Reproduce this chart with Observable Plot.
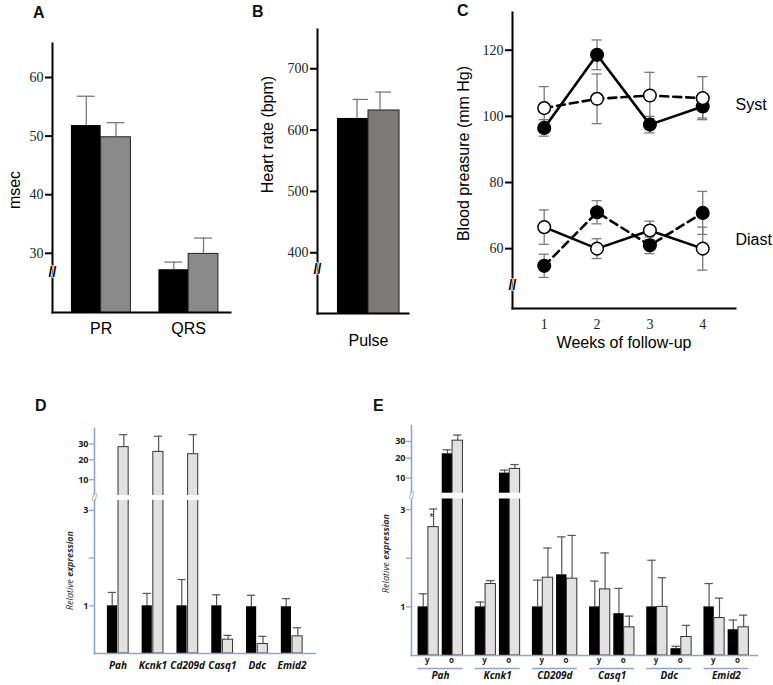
<!DOCTYPE html>
<html><head><meta charset="utf-8">
<script src="https://cdn.jsdelivr.net/npm/d3@7"></script>
<script src="https://cdn.jsdelivr.net/npm/@observablehq/plot@0.6"></script>
<style>
body{margin:0;background:#fff;}
#fig{position:relative;width:773px;height:685px;overflow:hidden;background:#fff;}
.letter{position:absolute;font:bold 16px "Liberation Sans",Arial,sans-serif;color:#111;}
.rel{position:absolute;font:9px "Open Sans",sans-serif;color:#333;transform:rotate(-90deg);transform-origin:center;white-space:nowrap;}
</style></head><body><div id="fig"></div><script>
// ---------- Panel A: ECG intervals ----------
const aCategories = ["PR", "QRS"];
const aBlack = [51.8, 27.2];
const aBlackErr = [56.8, 28.5];
const aGray = [49.8, 29.9];
const aGrayErr = [52.3, 32.6];
const aTicks = [30, 40, 50, 60];

// ---------- Panel B: heart rate ----------
const bCategories = ["Pulse"];
const bBlack = [619];
const bBlackErr = [650];
const bGray = [632];
const bGrayErr = [662];
const bTicks = [400, 500, 600, 700];

// ---------- Panel C: blood pressure ----------
const cWeeks = [1, 2, 3, 4];
const cSystFilled = [96.5, 118.6, 97.5, 103];
const cSystFilledErr = [2.5, 4.5, 2.5, 3.5];
const cSystOpen = [102.5, 105.3, 106.3, 105.5];
const cSystOpenErr = [6.5, 7.5, 7, 6.5];
const cDiastFilled = [54.8, 71, 61, 70.8];
const cDiastFilledErr = [3.5, 3.5, 2.5, 6.5];
const cDiastOpen = [66.5, 60, 65.5, 60];
const cDiastOpenErr = [5.2, 3, 2.8, 6.5];
const cTicks = [60, 80, 100, 120];

// ---------- Panel D: relative expression ----------
const dGenes = ["Pah", "Kcnk1", "Cd209d", "Casq1", "Ddc", "Emid2"];
const dBlack = [1, 1, 1, 1, 0.98, 0.98];
const dBlackErr = [1.28, 1.26, 1.55, 1.23, 1.22, 1.15];
const dGray = [28, 25, 23.5, 0.29, 0.20, 0.36];
const dGrayErr = [36, 35, 36, 0.38, 0.36, 0.54];

// ---------- Panel E: relative expression, young / old ----------
const eGenes = ["Pah", "Kcnk1", "CD209d", "Casq1", "Ddc", "Emid2"];
const eYoungBlack = [1, 1, 1, 1, 1, 1];
const eYoungBlackErr = [1.27, 1.10, 1.55, 1.53, 1.96, 1.48];
const eYoungGray = [2.64, 1.47, 1.60, 1.36, 1.0, 0.77];
const eYoungGrayErr = [3.14, 1.54, 2.21, 2.11, 1.60, 1.18];
const eOldBlack = [22.6, 12.5, 1.66, 0.86, 0.14, 0.53];
const eOldBlackErr = [25, 14, 2.44, 1.38, 0.19, 0.73];
const eOldGray = [30.5, 14.6, 1.58, 0.58, 0.38, 0.58];
const eOldGrayErr = [34, 16.8, 2.47, 0.81, 0.62, 0.83];
const eAges = ["y", "o"];

const exprTicks = [1, 2, 3, 10, 20, 30];
const exprTickLabel = d => (d === 2 ? "" : String(d));
// broken expression axis: value stops
const exprStops = [0, 3, 10, 20, 30, 40];

// ---------- helpers ----------
const fig = document.getElementById("fig");
function place(node, left, top) {
  node.style.position = "absolute";
  node.style.left = left + "px";
  node.style.top = top + "px";
  fig.appendChild(node);
}
function letter(t, left, top) {
  const d = document.createElement("div");
  d.className = "letter"; d.textContent = t;
  d.style.left = left + "px"; d.style.top = top + "px";
  fig.appendChild(d);
}
function bandwidth(domain, r0, r1, pi, po, align) {
  return d3.scaleBand().domain(domain).range([r0, r1]).paddingInner(pi).paddingOuter(po).align(align).bandwidth();
}
const SERIF = "Liberation Serif, Times New Roman, serif";
const SANS = "Liberation Sans, Arial, sans-serif";
const CAL = "Open Sans, sans-serif";
const ERRC = "#7a7a7a";
const breakMark = {textAnchor: "middle", fontFamily: SANS, fontWeight: "bold", fontSize: 14, stroke: "white", strokeWidth: 1.5, paintOrder: "stroke", fill: "black"};

// ================= Panel A =================
{
  const W = 250, H = 345, ml = 52, mt = 43, mr = 20, mb = 33;
  const pi = 0.32, po = 0.177, al = 0.61;
  const bw = bandwidth(aCategories, ml, W - mr, pi, po, al);
  const black = aCategories.map((c, i) => ({cat: c, v: aBlack[i], e: aBlackErr[i]}));
  const gray = aCategories.map((c, i) => ({cat: c, v: aGray[i], e: aGrayErr[i]}));
  const p = Plot.plot({
    width: W, height: H, marginLeft: ml, marginTop: mt, marginRight: mr, marginBottom: mb,
    style: {background: "transparent", color: "black"},
    x: {domain: aCategories, paddingInner: pi, paddingOuter: po, align: al, round: false, axis: null},
    y: {domain: [19.9, 65.8]},
    marks: [
      Plot.barY(black, {x: "cat", y: "v", fill: "black", insetRight: bw / 2, clip: true}),
      Plot.barY(gray, {x: "cat", y: "v", fill: "#8a8a8a", stroke: "#222", strokeWidth: 1, insetLeft: bw / 2, clip: true}),
      Plot.ruleX(black, {x: "cat", y1: "v", y2: "e", dx: -bw / 4, stroke: ERRC, strokeWidth: 1.3}),
      Plot.ruleX(gray, {x: "cat", y1: "v", y2: "e", dx: bw / 4, stroke: ERRC, strokeWidth: 1.3}),
      Plot.tickY(black, {x: "cat", y: "e", insetLeft: bw * 0.1, insetRight: bw * 0.6, stroke: ERRC, strokeWidth: 1.3}),
      Plot.tickY(gray, {x: "cat", y: "e", insetLeft: bw * 0.6, insetRight: bw * 0.1, stroke: ERRC, strokeWidth: 1.3}),
      Plot.axisY({ticks: aTicks, tickSize: 7, tickPadding: 2, strokeWidth: 2, label: null, fontFamily: SERIF, fontSize: 14, fill: "#222"}),
      Plot.frame({anchor: "left", strokeWidth: 2}),
      Plot.frame({anchor: "bottom", strokeWidth: 2}),
      Plot.text(["//"], {frameAnchor: "left", y: [26.8], ...breakMark}),
      Plot.text(aCategories, {x: d => d, frameAnchor: "bottom", dy: 21, fontFamily: SANS, fontSize: 16}),
      Plot.text(["msec"], {frameAnchor: "left", textAnchor: "middle", rotate: -90, dx: -38, dy: 12, fontFamily: SANS, fontSize: 16})
    ]
  });
  place(p, 0, 0);
}

// ================= Panel B =================
{
  const W = 180, H = 360, ml = 67, mt = 29, mr = 22, mb = 47;
  const pi = 0, po = 0.233, al = 0.69;
  const bw = bandwidth(bCategories, ml, W - mr, pi, po, al);
  const black = bCategories.map((c, i) => ({cat: c, v: bBlack[i], e: bBlackErr[i]}));
  const gray = bCategories.map((c, i) => ({cat: c, v: bGray[i], e: bGrayErr[i]}));
  const p = Plot.plot({
    width: W, height: H, marginLeft: ml, marginTop: mt, marginRight: mr, marginBottom: mb,
    style: {background: "transparent", color: "black"},
    x: {domain: bCategories, paddingInner: pi, paddingOuter: po, align: al, round: false, axis: null},
    y: {domain: [301, 764]},
    marks: [
      Plot.barY(black, {x: "cat", y: "v", fill: "black", insetRight: bw / 2, clip: true}),
      Plot.barY(gray, {x: "cat", y: "v", fill: "#7d7a77", stroke: "#222", strokeWidth: 1, insetLeft: bw / 2, clip: true}),
      Plot.ruleX(black, {x: "cat", y1: "v", y2: "e", dx: -bw / 4 + 4, stroke: ERRC, strokeWidth: 1.3}),
      Plot.ruleX(gray, {x: "cat", y1: "v", y2: "e", dx: bw / 4 - 4, stroke: ERRC, strokeWidth: 1.3}),
      Plot.tickY(black, {x: "cat", y: "e", insetLeft: bw * 0.25, insetRight: bw * 0.5, stroke: ERRC, strokeWidth: 1.3}),
      Plot.tickY(gray, {x: "cat", y: "e", insetLeft: bw * 0.62, insetRight: bw * 0.13, stroke: ERRC, strokeWidth: 1.3}),
      Plot.axisY({ticks: bTicks, tickSize: 7, tickPadding: 2, strokeWidth: 2, label: null, fontFamily: SERIF, fontSize: 14, fill: "#222"}),
      Plot.frame({anchor: "left", strokeWidth: 2}),
      Plot.frame({anchor: "bottom", strokeWidth: 2}),
      Plot.text(["//"], {frameAnchor: "left", y: [372], ...breakMark}),
      Plot.text(bCategories, {x: d => d, frameAnchor: "bottom", dy: 32, fontFamily: SANS, fontSize: 16}),
      Plot.text(["Heart rate (bpm)"], {frameAnchor: "left", textAnchor: "middle", rotate: -90, dx: -50, dy: -37, fontFamily: SANS, fontSize: 16})
    ]
  });
  place(p, 250, 0);
}

// ================= Panel C =================
{
  const W = 353, H = 362, ml = 92, mt = 12, mr = 38, mb = 54;
  const mk = (vals, errs) => cWeeks.map((w, i) => ({week: w, v: vals[i], lo: vals[i] - errs[i], hi: vals[i] + errs[i]}));
  const sF = mk(cSystFilled, cSystFilledErr);
  const sO = mk(cSystOpen, cSystOpenErr);
  const dF = mk(cDiastFilled, cDiastFilledErr);
  const dO = mk(cDiastOpen, cDiastOpenErr);
  const all = [...sF, ...sO, ...dF, ...dO];
  const err = {stroke: ERRC, strokeWidth: 1.3};
  const p = Plot.plot({
    width: W, height: H, marginLeft: ml, marginTop: mt, marginRight: mr, marginBottom: mb,
    style: {background: "transparent", color: "black", overflow: "visible"},
    x: {domain: [0.40, 4.62]},
    y: {domain: [41.9, 131.4]},
    marks: [
      Plot.ruleX(all, {x: "week", y1: "lo", y2: "hi", ...err}),
      Plot.ruleY(all, {y: "lo", x1: "week", x2: "week", insetLeft: -5, insetRight: -5, ...err}),
      Plot.ruleY(all, {y: "hi", x1: "week", x2: "week", insetLeft: -5, insetRight: -5, ...err}),
      Plot.line(sF, {x: "week", y: "v", stroke: "black", strokeWidth: 2.6}),
      Plot.line(sO, {x: "week", y: "v", stroke: "black", strokeWidth: 2.6, strokeDasharray: "8,5"}),
      Plot.line(dF, {x: "week", y: "v", stroke: "black", strokeWidth: 2.6, strokeDasharray: "8,5"}),
      Plot.line(dO, {x: "week", y: "v", stroke: "black", strokeWidth: 2.6}),
      Plot.dot([...sF, ...dF], {x: "week", y: "v", r: 6.3, fill: "black", stroke: "black"}),
      Plot.dot([...sO, ...dO], {x: "week", y: "v", r: 6.3, fill: "white", stroke: "black", strokeWidth: 1.5}),
      Plot.axisY({ticks: cTicks, tickSize: 7, tickPadding: 2, strokeWidth: 2, label: null, fontFamily: SERIF, fontSize: 14, fill: "#222"}),
      Plot.axisX({ticks: cWeeks, tickFormat: d3.format("d"), tickSize: 0, tickPadding: 11, label: null, fontFamily: SERIF, fontSize: 14, fill: "#222"}),
      Plot.frame({anchor: "left", strokeWidth: 2}),
      Plot.frame({anchor: "bottom", strokeWidth: 2}),
      Plot.text(["//"], {frameAnchor: "left", y: [49], ...breakMark}),
      Plot.text(["Syst"], {frameAnchor: "right", y: [103.5], textAnchor: "start", dx: 0, fontFamily: SANS, fontSize: 16}),
      Plot.text(["Diast"], {frameAnchor: "right", y: [62.5], textAnchor: "start", dx: 0, fontFamily: SANS, fontSize: 16}),
      Plot.text(["Weeks of follow-up"], {frameAnchor: "bottom", dy: 39, fontFamily: SANS, fontSize: 16}),
      Plot.text(["Blood preasure (mm Hg)"], {frameAnchor: "left", textAnchor: "middle", rotate: -90, dx: -49, dy: -7, fontFamily: SANS, fontSize: 16})
    ]
  });
  place(p, 420, 0);
}

// ================= Panels D & E helpers =================
const BLUE = "#8ea6cb";
function exprAxis(brk) {
  // the axis mark draws in scale space, so its ticks are placed through the same break mapping
  return Plot.axisY({
    ticks: exprTicks.map(brk),
    tickFormat: d => exprTickLabel(Math.round(brk.invert(d))),
    tickSize: 5, tickPadding: 1, stroke: BLUE, strokeWidth: 1.3, label: null,
    fontFamily: CAL, fontWeight: "bold", fontSize: 9, fill: "#222"
  });
}

// ================= Panel D =================
{
  const W = 360, H = 305, ml = 94, mt = 48, mr = 45, mb = 32;
  const pi = 0.388, po = 0.37, al = 0.5;
  const bw = bandwidth(dGenes, ml, W - mr, pi, po, al);
  const half = bw / 2;
  const black = dGenes.map((g, i) => ({g, v: dBlack[i], e: dBlackErr[i]}));
  const gray = dGenes.map((g, i) => ({g, v: dGray[i], e: dGrayErr[i]}));
  const brk = d3.scaleLinear().domain(exprStops).range([0, 143.3, 174, 194, 209.8, 225.3]);
  const er = {stroke: "#555", strokeWidth: 1.2};
  const p = Plot.plot({
    width: W, height: H, marginLeft: ml, marginTop: mt, marginRight: mr, marginBottom: mb,
    style: {background: "transparent", color: "black"},
    x: {domain: dGenes, paddingInner: pi, paddingOuter: po, align: al, round: false},
    y: {domain: [0, 225.3], transform: brk},
    marks: [
      Plot.frame({anchor: "left", stroke: BLUE, strokeWidth: 1.6}),
      exprAxis(brk),
      Plot.ruleX(black, {x: "g", y1: "v", y2: "e", dx: -half / 2 - 0.5, ...er}),
      Plot.ruleX(gray, {x: "g", y1: "v", y2: "e", dx: half / 2 + 0.5, ...er}),
      Plot.tickY(black, {x: "g", y: "e", insetLeft: 1, insetRight: half + 1.5, ...er}),
      Plot.tickY(gray, {x: "g", y: "e", insetLeft: half + 1.5, insetRight: 1, ...er}),
      Plot.barY(black, {x: "g", y: "v", fill: "black", insetRight: half + 0.5}),
      Plot.barY(gray, {x: "g", y: "v", fill: "#e1e1e1", stroke: "#333", strokeWidth: 1, insetLeft: half + 0.5}),
      Plot.rect([[5.3, 6.4]], {y1: d => d[0], y2: d => d[1], fill: "white", insetLeft: -4}),
      Plot.text(["//"], {frameAnchor: "left", y: [5.85], textAnchor: "middle", fontFamily: SANS, fontSize: 10, fill: BLUE}),
      Plot.frame({anchor: "bottom", stroke: BLUE, strokeWidth: 1.6}),
      Plot.axisX({tickSize: 0, tickPadding: 8, label: null, fontFamily: CAL, fontWeight: "bold", fontStyle: "italic", fontSize: 10, fill: "#111"})
    ]
  });
  place(p, 0, 380);
}

// ================= Panel E =================
{
  const W = 403, H = 305, ml = 41, mt = 45, mr = 16, mb = 30;
  const pi = 0.215, po = 0.133, al = 0.43;
  const bw = bandwidth(eGenes, ml, W - mr, pi, po, al);
  const gap = 3.5, q = (bw - gap) / 4;
  const rows = (vals, errs) => eGenes.map((g, i) => ({g, v: vals[i], e: errs[i]}));
  const yb = rows(eYoungBlack, eYoungBlackErr), yg = rows(eYoungGray, eYoungGrayErr);
  const ob = rows(eOldBlack, eOldBlackErr), og = rows(eOldGray, eOldGrayErr);
  const slots = [[yb, 0, "black"], [yg, 1, "gray"], [ob, 2, "black"], [og, 3, "gray"]];
  const brk = d3.scaleLinear().domain(exprStops).range([0, 146.1, 177.7, 197.7, 214.4, 230.4]);
  const er = {stroke: "#555", strokeWidth: 1.2};
  const barMarks = [];
  for (const [data, k, color] of slots) {
    const left = k * q + (k >= 2 ? gap : 0);
    const right = bw - left - q;
    const center = left + q / 2 - bw / 2;
    barMarks.push(Plot.ruleX(data, {x: "g", y1: "v", y2: "e", dx: center, ...er}));
    barMarks.push(Plot.tickY(data, {x: "g", y: "e", insetLeft: left + 1, insetRight: right + 1, ...er}));
    barMarks.push(color === "black"
      ? Plot.barY(data, {x: "g", y: "v", fill: "black", insetLeft: left, insetRight: right})
      : Plot.barY(data, {x: "g", y: "v", fill: "#e1e1e1", stroke: "#333", strokeWidth: 1, insetLeft: left, insetRight: right}));
  }
  const p = Plot.plot({
    width: W, height: H, marginLeft: ml, marginTop: mt, marginRight: mr, marginBottom: mb,
    style: {background: "transparent", color: "black"},
    x: {domain: eGenes, paddingInner: pi, paddingOuter: po, align: al, round: false},
    y: {domain: [0, 230.4], transform: brk},
    marks: [
      Plot.frame({anchor: "left", stroke: BLUE, strokeWidth: 1.6}),
      exprAxis(brk),
      ...barMarks,
      Plot.rect([[5.37, 6.65]], {y1: d => d[0], y2: d => d[1], fill: "white", insetLeft: -4}),
      Plot.text(["//"], {frameAnchor: "left", y: [6.0], textAnchor: "middle", fontFamily: SANS, fontSize: 10, fill: BLUE}),
      Plot.text(["*"], {x: ["Pah"], y: [eYoungGray[0]], dx: -bw / 2 + q * 1.5 - 2, dy: -9, fontFamily: SANS, fontSize: 10, fill: "#222"}),
      Plot.frame({anchor: "bottom", stroke: BLUE, strokeWidth: 1.6}),
      Plot.text(eGenes, {x: d => d, frameAnchor: "bottom", text: () => eAges[0], dx: -bw / 2 + q - 1, dy: 7, fontFamily: CAL, fontWeight: "bold", fontSize: 8, fill: "#222"}),
      Plot.text(eGenes, {x: d => d, frameAnchor: "bottom", text: () => eAges[1], dx: bw / 2 - q - 1, dy: 7, fontFamily: CAL, fontWeight: "bold", fontSize: 8, fill: "#222"}),
      Plot.tickY(eGenes, {x: d => d, y: () => 0, dy: 13, stroke: BLUE, strokeWidth: 1.3}),
      Plot.axisX({tickSize: 0, tickPadding: 16, label: null, fontFamily: CAL, fontWeight: "bold", fontStyle: "italic", fontSize: 10, fill: "#111"})
    ]
  });
  place(p, 370, 380);
}

// panel letters and rotated labels
letter("A", 33, 4);
letter("B", 252, 3);
letter("C", 457, 2);
letter("D", 35, 397);
letter("E", 373, 397);
function rel(left, top) {
  const d = document.createElement("div");
  d.className = "rel";
  d.innerHTML = '<i>Relative</i> <b><i>expression</i></b>';
  fig.appendChild(d);
  d.style.left = (left - d.offsetWidth / 2) + "px";
  d.style.top = (top - d.offsetHeight / 2) + "px";
}
rel(69, 570);
rel(385, 553);
</script></body></html>
